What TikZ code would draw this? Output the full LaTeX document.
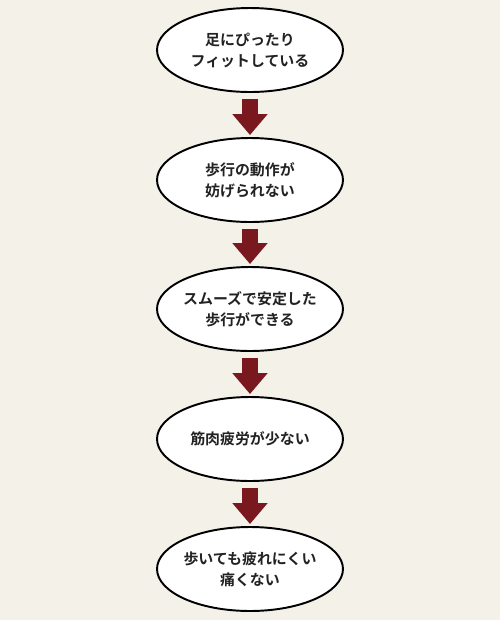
\documentclass[tikz,border=0pt]{standalone}
\usepackage{fontspec}
\setmainfont{Noto Sans CJK JP}[BoldFont={Noto Sans CJK JP Bold}]
\usetikzlibrary{shapes.geometric,arrows.meta}
\definecolor{bgbeige}{HTML}{F4F1E9}
\definecolor{arrowred}{HTML}{7A1820}
\definecolor{textdark}{HTML}{222222}
\tikzset{
  stepoval/.style={ellipse, draw=black, line width=1.1pt, fill=white,
    minimum width=3.72cm, minimum height=1.68cm, inner sep=0pt, inner xsep=-0.1cm,
    align=center, text=textdark, font=\bfseries\fontsize{8.5}{12}\selectfont},
  downarrow/.style={draw=arrowred, line width=0.32cm,
    -{Triangle[width=0.68cm,length=0.42cm]}, shorten <=0.12cm, shorten >=0.04cm}
}
\begin{document}
\begin{tikzpicture}[x=0.02cm, y=-0.02cm]
            \fill[bgbeige] (0,0) rectangle (500,620);
            \node[stepoval] (s1) at (250,50) {足にぴったり\\フィットしている};
            \node[stepoval] (s2) at (250,180) {歩行の動作が\\妨げられない};
            \node[stepoval] (s3) at (250,309) {スムーズで安定した\\歩行ができる};
            \node[stepoval] (s4) at (250,439) {筋肉疲労が少ない};
            \node[stepoval] (s5) at (250,569) {歩いても疲れにくい\\痛くない};
            \draw[downarrow] (s1.south) -- (s2.north);
            \draw[downarrow] (s2.south) -- (s3.north);
            \draw[downarrow] (s3.south) -- (s4.north);
            \draw[downarrow] (s4.south) -- (s5.north);
        \end{tikzpicture}
\end{document}
